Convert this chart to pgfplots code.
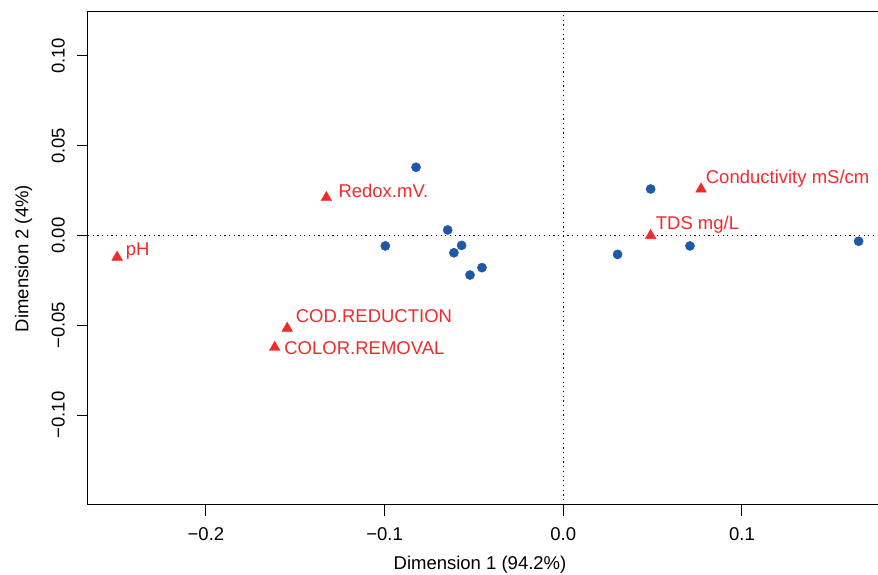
\documentclass[border=0pt]{standalone}
\usepackage{pgfplots}
\pgfplotsset{compat=1.18}
\usepackage{pgfplotstable}
\usepackage{fontspec}
\setmainfont{Liberation Sans}
\definecolor{ptblue}{RGB}{30,88,166}
\definecolor{ptred}{RGB}{238,44,44}

\pgfplotstableread[col sep=comma]{
x,y
-0.0824,0.0380
-0.0996,-0.0058
-0.0647,0.0031
-0.0569,-0.0055
-0.0612,-0.0096
-0.0522,-0.0220
-0.0455,-0.0179
0.0304,-0.0105
0.0489,0.0259
0.0709,-0.0058
0.1653,-0.0032
}\samples

\pgfplotstableread[col sep=comma]{
x,y,lx,ly,label
-0.2497,-0.0121,-0.2449,-0.0114,pH
-0.1326,0.0211,-0.1259,0.0211,Redox.mV.
-0.1545,-0.0517,-0.1498,-0.0485,COD.REDUCTION
-0.1615,-0.0623,-0.1562,-0.0660,COLOR.REMOVAL
0.0489,0.0000,0.0517,0.0031,TDS mg/L
0.0771,0.0259,0.0797,0.0287,Conductivity mS/cm
}\variables

\begin{document}
\begin{tikzpicture}[font=\fontsize{18.5}{22}\selectfont]
\useasboundingbox (-88pt,-70pt) rectangle (790pt,505pt);
\begin{axis}[
  at={(0pt,0pt)}, anchor=south west,
  scale only axis,
  width=791pt, height=493pt,
  xmin=-0.2660, xmax=0.1767,
  ymin=-0.1501, ymax=0.1245,
  axis line style={black, line width=1pt},
  tick style={black, line width=1pt},
  tick align=outside,
  xtick pos=bottom, ytick pos=left,
  major tick length=11pt,
  xtick={-0.2,-0.1,0,0.1},
  xticklabels={−0.2,−0.1,0.0,0.1},
  ytick={-0.1,-0.05,0,0.05,0.1},
  yticklabels={−0.10,−0.05,0.00,0.05,0.10},
  xticklabel style={anchor=north, inner sep=0pt},
  xticklabel shift=11pt,
  yticklabel style={rotate=90, anchor=south, inner sep=0pt},
  yticklabel shift=12pt,
  xlabel={Dimension 1 (94.2\%)},
  ylabel={Dimension 2 (4\%)},
  xlabel style={at={(axis description cs:0.4956,-0.1318)}, anchor=base, inner sep=0pt},
  ylabel style={at={(axis description cs:-0.0755,0.5)}, anchor=base, inner sep=0pt},
  clip=false,
]
\addplot[black, line width=0.9pt, dash pattern=on 1.2pt off 3.5pt] coordinates {(0,-0.1501) (0,0.1245)};
\addplot[black, line width=0.9pt, dash pattern=on 1.2pt off 3.5pt] coordinates {(-0.2660,0) (0.1767,0)};
\addplot[only marks, mark=*, mark size=4.6pt, color=ptblue, mark options={draw=ptblue, fill=ptblue}] table[x=x, y=y] {\samples};
\addplot[only marks, mark=triangle*, mark size=6.2pt, color=ptred, mark options={draw=ptred, fill=ptred}] table[x=x, y=y] {\variables};
\addplot[only marks, mark=none, nodes near coords, point meta=explicit symbolic,
  nodes near coords align={anchor=base west},
  every node near coord/.append style={inner sep=0pt, text=ptred, anchor=base west}]
  table[x=lx, y=ly, meta=label] {\variables};
\end{axis}
\end{tikzpicture}
\end{document}
